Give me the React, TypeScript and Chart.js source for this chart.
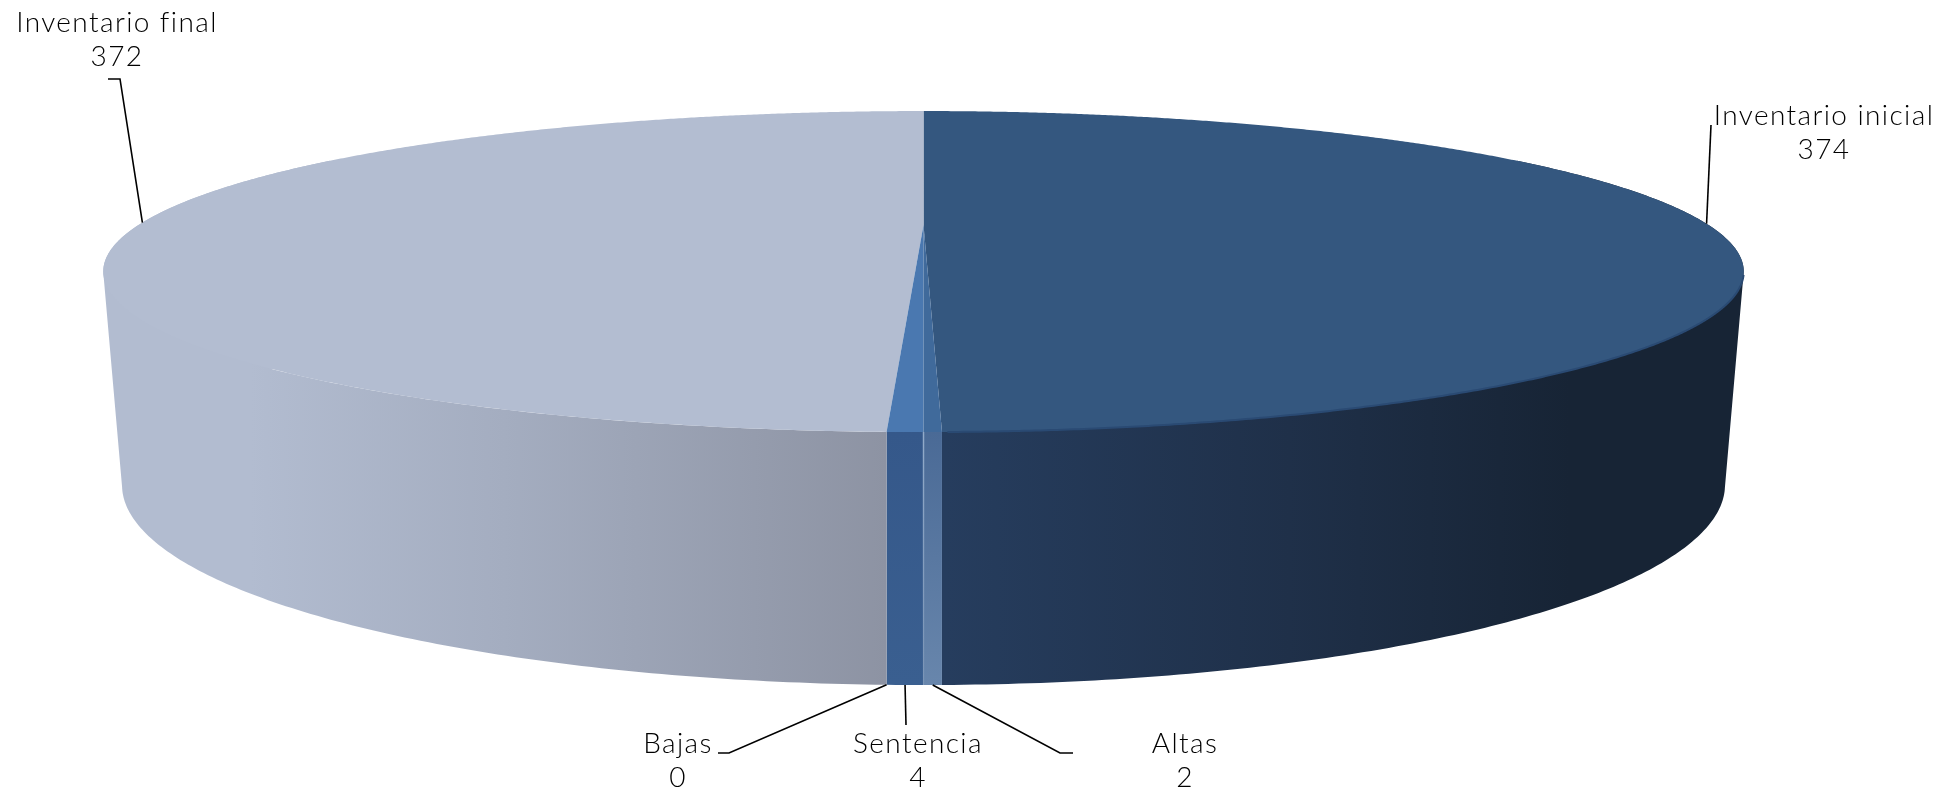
import React, { useEffect, useRef } from "react";
import { Chart, registerables } from "chart.js";

Chart.register(...registerables);

const categories = ["Inventario inicial", "Altas", "Sentencia", "Bajas", "Inventario final"];
const seriesValues = [374, 2, 4, 0, 372];
const topColors = ["#34577f", "#406a9b", "#4a78b0", "#4a78b0", "#b3bdd1"];

// wall shading: [position 0..1, colour] along the line given in wallLines
const wallStops: [number, string][][] = [
  [[0, "#263d5e"], [0.55, "#1f3049"], [1, "#172435"]],
  [[0, "#4a6a96"], [1, "#6886ac"]],
  [[0, "#35588a"], [1, "#3a5f90"]],
  [[0, "#35588a"], [1, "#3a5f90"]],
  [[0, "#8d93a3"], [0.6, "#a4adc0"], [1, "#b2bcd0"]],
];
const wallLines = [
  [945, 0, 1570, 0],
  [0, 432, 0, 685],
  [0, 432, 0, 685],
  [0, 432, 0, 685],
  [886, 0, 250, 0],
];

// perspective of the two rims of the disc
const CX = 923.5;
const topRim = { a: 785, c: -0.29, y0: 225, h: 147 };
const bottomRim = { a: 762, c: -0.31, y0: 423, h: 180.8 };

type Rim = typeof topRim;
const project = (rim: Rim, theta: number, r = 1) => {
  const u = r * Math.sin(theta);
  const v = -r * Math.cos(theta);
  const w = 1 + rim.c * v;
  return { x: CX + (rim.a * u) / w, y: rim.y0 + (rim.h * v) / w };
};

// label table: text centre, elbow of the leader
const labelLayout = [
  { cx: 1824, base: 125, elbow: [[1711, 125]], rim: "top" },
  { cx: 1185, base: 753, elbow: [[1060, 753], [1073, 753]], rim: "bottom" },
  { cx: 918, base: 753, elbow: [[906, 725]], rim: "bottom" },
  { cx: 678, base: 753, elbow: [[729, 753], [718, 753]], rim: "bottom" },
  { cx: 117, base: 32, elbow: [[120, 79], [108, 79]], rim: "top" },
];

const pie3d = {
  id: "pie3d",
  beforeDatasetDraw(chart: any, args: any) {
    const ctx: CanvasRenderingContext2D = chart.ctx;
    const arcs = args.meta.data;
    const base = -Math.PI / 2;
    ctx.save();
    // side wall, front half only
    arcs.forEach((arc: any, i: number) => {
      const from = arc.startAngle - base;
      const to = arc.endAngle - base;
      const lo = Math.max(from, Math.PI / 3);
      const hi = Math.min(to, (5 * Math.PI) / 3);
      if (hi <= lo) return;
      const [x0, y0, x1, y1] = wallLines[i];
      const g = ctx.createLinearGradient(x0, y0, x1, y1);
      wallStops[i].forEach(([p, c]) => g.addColorStop(p, c));
      ctx.beginPath();
      const steps = Math.max(2, Math.ceil((hi - lo) / 0.01));
      for (let s = 0; s < steps; s++) {
        const t1 = lo + ((hi - lo) * s) / steps;
        const t2 = lo + ((hi - lo) * (s + 1)) / steps;
        const q = [project(topRim, t1), project(topRim, t2), project(bottomRim, t2), project(bottomRim, t1)];
        let area = 0;
        q.forEach((p, k) => {
          const n = q[(k + 1) % 4];
          area += p.x * n.y - n.x * p.y;
        });
        const pts = area < 0 ? q.reverse() : q;
        pts.forEach((p, k) => (k ? ctx.lineTo(p.x, p.y) : ctx.moveTo(p.x, p.y)));
        ctx.closePath();
      }
      ctx.fillStyle = g;
      ctx.fill();
    });
    // pale seam where two front walls meet
    const seamAngle = arcs[1].endAngle - base;
    const seamTop = project(topRim, seamAngle);
    const seamBottom = project(bottomRim, seamAngle);
    const seam = ctx.createLinearGradient(0, seamTop.y, 0, seamBottom.y);
    seam.addColorStop(0, "rgba(150,175,205,0.9)");
    seam.addColorStop(1, "rgba(150,175,205,0.15)");
    ctx.strokeStyle = seam;
    ctx.lineWidth = 1.5;
    ctx.beginPath();
    ctx.moveTo(seamTop.x, seamTop.y);
    ctx.lineTo(seamBottom.x, seamBottom.y);
    ctx.stroke();
    // top face, large slices first
    const order = arcs.map((_: any, i: number) => i).sort((a: number, b: number) => seriesValues[b] - seriesValues[a]);
    order.forEach((i: number) => {
      const arc = arcs[i];
      const from = arc.startAngle - base;
      const to = arc.endAngle - base;
      if (to - from <= 0) return;
      ctx.beginPath();
      const apex = project(topRim, 0, 0);
      ctx.moveTo(apex.x, apex.y);
      const steps = Math.max(2, Math.ceil((to - from) / 0.005));
      for (let s = 0; s <= steps; s++) {
        const p = project(topRim, from + ((to - from) * s) / steps);
        ctx.lineTo(p.x, p.y);
      }
      ctx.closePath();
      ctx.fillStyle = topColors[i];
      ctx.fill();
    });
    // darker lip along the front rim of the first slice
    ctx.strokeStyle = "#2a4a73";
    ctx.lineWidth = 2;
    ctx.beginPath();
    const lipFrom = Math.PI * 0.6;
    const lipTo = arcs[0].endAngle - base;
    for (let t = lipFrom; t <= lipTo; t += 0.005) {
      const p = project(topRim, t);
      t === lipFrom ? ctx.moveTo(p.x, p.y) : ctx.lineTo(p.x, p.y);
    }
    ctx.stroke();
    // leaders and labels
    ctx.strokeStyle = "#000000";
    ctx.lineWidth = 1.6;
    ctx.fillStyle = "#000000";
    ctx.textBaseline = "alphabetic";
    ctx.textAlign = "center";
    ctx.font = '300 28px Lato, "Open Sans", sans-serif';
    (ctx as any).letterSpacing = "1.4px";
    arcs.forEach((arc: any, i: number) => {
      const mid = (arc.startAngle + arc.endAngle) / 2 - base;
      const l = labelLayout[i];
      const anchor = project(l.rim === "top" ? topRim : bottomRim, mid);
      ctx.beginPath();
      ctx.moveTo(anchor.x, anchor.y);
      l.elbow.forEach(([x, y]) => ctx.lineTo(x, y));
      ctx.stroke();
      ctx.fillText(categories[i], l.cx, l.base);
      ctx.fillText(String(seriesValues[i]), l.cx, l.base + 34);
    });
    ctx.restore();
    return false;
  },
};

export default function App() {
  const ref = useRef<HTMLCanvasElement>(null);
  useEffect(() => {
    document.body.style.margin = "0";
    const chart = new Chart(ref.current!, {
      type: "pie",
      data: {
        labels: categories,
        datasets: [{ data: seriesValues, backgroundColor: topColors, borderWidth: 0 }],
      },
      options: {
        animation: false,
        responsive: false,
        devicePixelRatio: 1,
        plugins: { legend: { display: false }, tooltip: { enabled: false } },
      },
      plugins: [pie3d],
    } as any);
    return () => chart.destroy();
  }, []);
  return <canvas ref={ref} width={1954} height={790} style={{ display: "block" }} />;
}
